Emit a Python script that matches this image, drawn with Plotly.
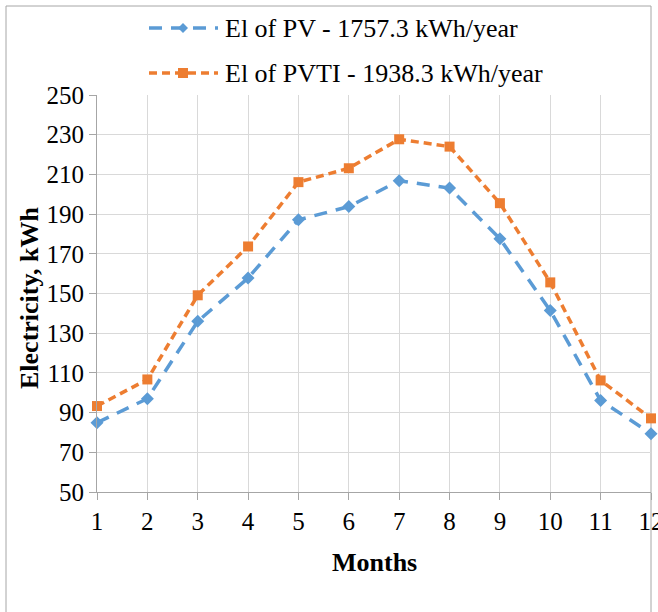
import plotly.graph_objects as go

months = [1, 2, 3, 4, 5, 6, 7, 8, 9, 10, 11, 12]
el_pv = [84.9, 97.0, 136.0, 157.8, 187.1, 193.8, 206.8, 203.1, 177.6, 141.4, 96.1, 79.4]
el_pvti = [93.3, 106.7, 149.1, 173.7, 206.1, 213.1, 227.7, 224.0, 195.5, 155.6, 106.2, 87.1]
name_pv = "El of PV - 1757.3 kWh/year"
name_pvti = "El of PVTI - 1938.3 kWh/year"
y_ticks = [50, 70, 90, 110, 130, 150, 170, 190, 210, 230, 250]

BLUE = "#5B9BD5"
ORANGE = "#ED7D31"
FONT = "Liberation Serif, Tinos, Times New Roman, Times, DejaVu Serif, Noto Serif, serif"

W, H = 658, 612
L, R, T, B = 97, 651, 95, 492


def px(x):
    return (x - L) / (R - L)


def py(y):
    return (B - y) / (B - T)


fig = go.Figure()
fig.add_trace(go.Scatter(
    x=months, y=el_pv, name=name_pv, mode="lines+markers",
    line=dict(color=BLUE, width=3.5, dash="13px,9px"),
    marker=dict(symbol="diamond", size=10, color=BLUE),
    cliponaxis=False, showlegend=False))
fig.add_trace(go.Scatter(
    x=months, y=el_pvti, name=name_pvti, mode="lines+markers",
    line=dict(color=ORANGE, width=3.5, dash="8px,5px"),
    marker=dict(symbol="square", size=10, color=ORANGE),
    cliponaxis=False, showlegend=False))

shapes = []
annotations = []
# outer chart border
shapes.append(dict(type="rect", xref="paper", yref="paper",
                   x0=px(6), x1=px(651), y0=py(700), y1=py(6),
                   line=dict(color="#a6a6a6", width=1), layer="below"))

# custom legend
legend_items = [(name_pv, BLUE, "13px,9px", "diamond", 28),
                (name_pvti, ORANGE, "8px,5px", "square", 73)]
for name, col, dash, sym, yy in legend_items:
    shapes.append(dict(type="line", xref="paper", yref="paper",
                       x0=px(149), x1=px(218), y0=py(yy), y1=py(yy),
                       line=dict(color=col, width=3.5, dash=dash)))
    cx, s = 183, 5
    if sym == "diamond":
        path = (f"M{px(cx - s)},{py(yy)} L{px(cx)},{py(yy - s)} "
                f"L{px(cx + s)},{py(yy)} L{px(cx)},{py(yy + s)} Z")
    else:
        path = (f"M{px(cx - s)},{py(yy - s)} L{px(cx + s)},{py(yy - s)} "
                f"L{px(cx + s)},{py(yy + s)} L{px(cx - s)},{py(yy + s)} Z")
    shapes.append(dict(type="path", xref="paper", yref="paper", path=path,
                       fillcolor=col, line=dict(color=col, width=0)))
    annotations.append(dict(xref="paper", yref="paper", x=px(223), y=py(yy),
                            xanchor="left", yanchor="middle", showarrow=False,
                            text=name, font=dict(family=FONT, size=26, color="#000")))

# axis titles
annotations.append(dict(xref="paper", yref="paper", x=px(29), y=py(298),
                        xanchor="center", yanchor="middle", showarrow=False,
                        textangle=-90, text="<b>Electricity, kWh</b>",
                        font=dict(family=FONT, size=26, color="#000")))
annotations.append(dict(xref="paper", yref="paper", x=px(374), y=py(562),
                        xanchor="center", yanchor="middle", showarrow=False,
                        text="<b>Months</b>",
                        font=dict(family=FONT, size=26, color="#000")))

fig.update_layout(
    width=W, height=H,
    margin=dict(l=L, r=W - R, t=T, b=H - B, pad=0),
    paper_bgcolor="white", plot_bgcolor="white",
    showlegend=False,
    shapes=shapes, annotations=annotations,
    font=dict(family=FONT, size=25, color="#000"),
)
fig.update_xaxes(
    range=[1, 12], tickmode="array", tickvals=months,
    ticktext=[str(m) for m in months],
    showgrid=True, gridcolor="#d9d9d9", gridwidth=1,
    showline=True, linecolor="#a6a6a6", linewidth=1,
    ticks="outside", ticklen=7, tickcolor="#a6a6a6",
    zeroline=False, tickfont=dict(family=FONT, size=25, color="#000"),
    ticklabeloverflow="allow", automargin=False)
fig.update_yaxes(
    range=[50, 250], tickmode="array", tickvals=y_ticks,
    ticktext=[str(v) for v in y_ticks],
    showgrid=True, gridcolor="#d9d9d9", gridwidth=1,
    showline=True, linecolor="#a6a6a6", linewidth=1,
    ticks="outside", ticklen=7, tickcolor="#a6a6a6",
    zeroline=False, tickfont=dict(family=FONT, size=25, color="#000"),
    ticklabeloverflow="allow", automargin=False)

fig.write_html("out.html")
